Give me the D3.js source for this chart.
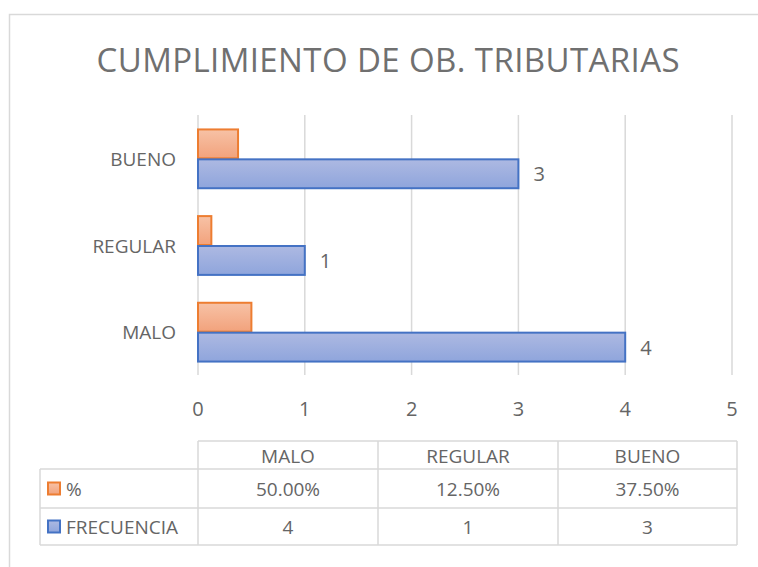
<!DOCTYPE html>
<html>
<head>
<meta charset="utf-8">
<script src="https://cdn.jsdelivr.net/npm/d3@7"></script>
<style>
  body { margin: 0; background: #fff; }
  svg { display: block; font-family: "Open Sans", "Liberation Sans", sans-serif; }
</style>
</head>
<body>
<svg width="758" height="567"></svg>
<script>
var categories = ["MALO", "REGULAR", "BUENO"];
var porcentaje = [0.5, 0.125, 0.375];
var frecuencia = [4, 1, 3];
var porcentajeLabels = ["50.00%", "12.50%", "37.50%"];
var xTicks = [0, 1, 2, 3, 4, 5];
var seriesNames = ["%", "FRECUENCIA"];

var svg = d3.select("svg"),
    textColor = "#656565",
    gridColor = "#d9d9d9";

var defs = svg.append("defs");
function grad(id, c1, c2) {
    var g = defs.append("linearGradient").attr("id", id)
        .attr("x1", 0).attr("y1", 0).attr("x2", 0).attr("y2", 1);
    g.append("stop").attr("offset", "0%").attr("stop-color", c1);
    g.append("stop").attr("offset", "100%").attr("stop-color", c2);
}
grad("gOrange", "#f7c2a6", "#f2a27c");
grad("gBlue", "#adb9e2", "#8fa5dc");

var fills = ["url(#gOrange)", "url(#gBlue)"],
    strokes = ["#ed7d31", "#4472c4"];

// chart area border
svg.append("rect")
    .attr("x", 9.5).attr("y", 14.5)
    .attr("width", 780).attr("height", 600)
    .attr("fill", "none").attr("stroke", gridColor).attr("stroke-width", 1.5);

// title
svg.append("text")
    .attr("x", 388).attr("y", 72)
    .attr("text-anchor", "middle")
    .attr("textLength", 583)
    .style("font-size", "33px")
    .style("fill", "#707070")
    .text("CUMPLIMIENTO DE OB. TRIBUTARIAS");

var x = d3.scaleLinear().domain([0, 5]).range([198, 732]);
var y = d3.scaleBand().domain(categories.slice().reverse()).range([115, 375]).paddingInner(0.31).paddingOuter(0.155);
var sub = d3.scaleBand().domain([0, 1]).range([0, y.bandwidth()]);

// grid lines
svg.append("g").selectAll("line")
    .data(xTicks).enter().append("line")
    .attr("x1", function(d) { return x(d); })
    .attr("x2", function(d) { return x(d); })
    .attr("y1", 115).attr("y2", 375)
    .attr("stroke", gridColor).attr("stroke-width", 1.5);

// x tick labels
svg.append("g").selectAll("text")
    .data(xTicks).enter().append("text")
    .attr("x", function(d) { return x(d); })
    .attr("y", 416)
    .attr("text-anchor", "middle")
    .style("font-size", "20px").style("fill", textColor)
    .text(function(d) { return d; });

// category labels
svg.append("g").selectAll("text")
    .data(categories).enter().append("text")
    .attr("x", 176)
    .attr("y", function(d) { return y(d) + y.bandwidth() / 2 + 1; })
    .attr("dy", "0.35em")
    .attr("text-anchor", "end")
    .style("font-size", "19px").style("fill", textColor)
    .text(function(d) { return d; });

var rows = categories.map(function(c, i) {
    return {cat: c, values: [porcentaje[i], frecuencia[i]]};
});

var grp = svg.append("g").selectAll("g")
    .data(rows).enter().append("g")
    .attr("transform", function(d) { return "translate(0," + y(d.cat) + ")"; });

grp.selectAll("rect")
    .data(function(d) { return d.values; })
    .enter().append("rect")
    .attr("x", x(0))
    .attr("y", function(d, i) { return sub(i) + 1; })
    .attr("width", function(d) { return x(d) - x(0); })
    .attr("height", sub.bandwidth() - 1)
    .attr("fill", function(d, i) { return fills[i]; })
    .attr("stroke", function(d, i) { return strokes[i]; })
    .attr("stroke-width", 2);

// data labels on the frecuencia bars
grp.append("text")
    .attr("x", function(d) { return x(d.values[1]) + 15; })
    .attr("y", function(d) { return sub(1) + sub.bandwidth() / 2 + 1; })
    .attr("dy", "0.35em")
    .style("font-size", "20px").style("fill", textColor)
    .text(function(d) { return d.values[1]; });

// data table
var colX = [40, 198, 378, 558, 737],
    rowY = [441, 469, 508, 545];

var tbl = svg.append("g").attr("stroke", gridColor).attr("stroke-width", 1.5);
// horizontal lines
tbl.append("line").attr("x1", colX[1]).attr("x2", colX[4]).attr("y1", rowY[0]).attr("y2", rowY[0]);
[1, 2, 3].forEach(function(r) {
    tbl.append("line").attr("x1", colX[0]).attr("x2", colX[4]).attr("y1", rowY[r]).attr("y2", rowY[r]);
});
// vertical lines
tbl.append("line").attr("x1", colX[0]).attr("x2", colX[0]).attr("y1", rowY[1]).attr("y2", rowY[3]);
[1, 2, 3, 4].forEach(function(c) {
    tbl.append("line").attr("x1", colX[c]).attr("x2", colX[c]).attr("y1", rowY[0]).attr("y2", rowY[3]);
});

var tableText = svg.append("g").style("font-size", "19px").style("fill", textColor);
categories.forEach(function(c, i) {
    var cx = (colX[i + 1] + colX[i + 2]) / 2;
    tableText.append("text").attr("x", cx).attr("y", (rowY[0] + rowY[1]) / 2 + 1).attr("dy", "0.35em")
        .attr("text-anchor", "middle").text(c);
    tableText.append("text").attr("x", cx).attr("y", (rowY[1] + rowY[2]) / 2 + 1).attr("dy", "0.35em")
        .attr("text-anchor", "middle").text(porcentajeLabels[i]);
    tableText.append("text").attr("x", cx).attr("y", (rowY[2] + rowY[3]) / 2 + 1).attr("dy", "0.35em")
        .attr("text-anchor", "middle").text(frecuencia[i]);
});

// legend keys in the table
seriesNames.forEach(function(s, i) {
    var cy = (rowY[i + 1] + rowY[i + 2]) / 2;
    svg.append("rect")
        .attr("x", 48).attr("y", cy - 6)
        .attr("width", 12).attr("height", 12)
        .attr("fill", fills[i]).attr("stroke", strokes[i]).attr("stroke-width", 2);
    tableText.append("text").attr("x", 66).attr("y", cy + 1).attr("dy", "0.35em")
        .text(s);
});
</script>
</body>
</html>
